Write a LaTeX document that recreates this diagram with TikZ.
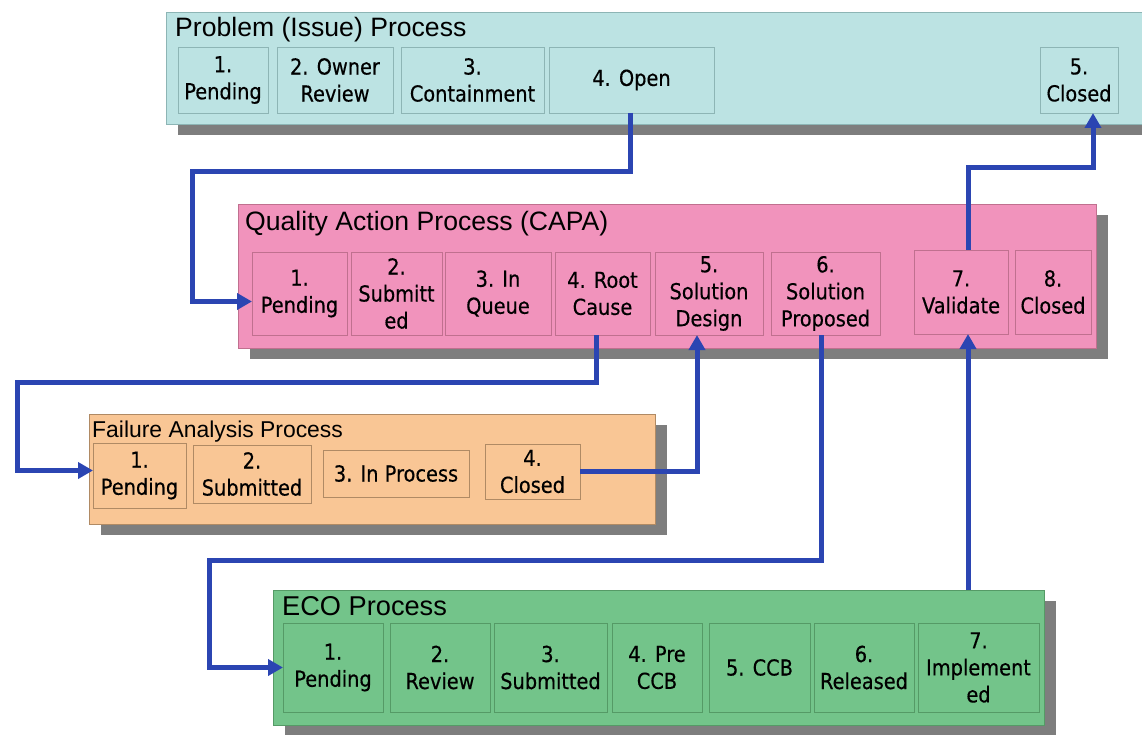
\documentclass[tikz,border=0pt]{standalone}
\usepackage{fontspec}
\setmainfont{Liberation Sans}
\newfontfamily\tah[FakeStretch=0.88,FakeBold=0.4]{DejaVu Sans}
\usetikzlibrary{arrows.meta,shadows}
\definecolor{probfill}{HTML}{BCE3E3}
\definecolor{probline}{HTML}{8DB5B5}
\definecolor{capafill}{HTML}{F193BC}
\definecolor{capaline}{HTML}{C0708F}
\definecolor{fafill}{HTML}{F9C695}
\definecolor{faline}{HTML}{B08A64}
\definecolor{ecofill}{HTML}{73C48A}
\definecolor{ecoline}{HTML}{559A66}
\definecolor{arrowblue}{HTML}{2B45B2}
\definecolor{shadowgray}{HTML}{7E7E7E}
\begin{document}
\begin{tikzpicture}[x=1pt,y=-1pt,
  outerbox/.style={anchor=north west,inner sep=0pt,outer sep=0pt,line width=0.8pt},
  sbox/.style={anchor=north west,inner sep=0pt,outer sep=0pt,line width=0.9pt,align=center,
    font=\tah\fontsize{22}{27}\selectfont},
  ptitle/.style={anchor=base west,inner sep=0pt,font=\fontsize{26.6}{30}\selectfont},
  arr/.style={line width=5pt,draw=arrowblue,line join=miter,
    -{Triangle[length=15pt,width=16pt]}},
  shad/.style={drop shadow={shadow xshift=12pt,shadow yshift=-11pt,fill=shadowgray,opacity=1}}
]
\useasboundingbox (0,0) rectangle (1142,735);
% Problem process
\node[outerbox,shad,fill=probfill,draw=probline,minimum width=990pt,minimum height=112pt] (prob) at (166,12) {};
\node[ptitle] (probt) at (175,37) {Problem (Issue) Process};
\node[sbox,draw=probline,minimum width=90pt,minimum height=66pt] (p1) at (178,47) {1.\\Pending};
\node[sbox,draw=probline,minimum width=116pt,minimum height=66pt] (p2) at (277,47) {2. Owner\\Review};
\node[sbox,draw=probline,minimum width=143pt,minimum height=66pt] (p3) at (401,47) {3.\\Containment};
\node[sbox,draw=probline,minimum width=165pt,minimum height=66pt] (p4) at (549,47) {4. Open};
\node[sbox,draw=probline,minimum width=78pt,minimum height=66pt] (p5) at (1040,47) {5.\\Closed};
% CAPA
\node[outerbox,shad,fill=capafill,draw=capaline,minimum width=858pt,minimum height=144pt] (capa) at (238,204) {};
\node[ptitle] (capat) at (245,231) {Quality Action Process (CAPA)};
\node[sbox,draw=capaline,minimum width=95pt,minimum height=83pt] (q1) at (252,252) {1.\\Pending};
\node[sbox,draw=capaline,minimum width=91pt,minimum height=83pt] (q2) at (351,252) {2.\\Submitt\\ed};
\node[sbox,draw=capaline,minimum width=106pt,minimum height=83pt] (q3) at (445,252) {3. In\\Queue};
\node[sbox,draw=capaline,minimum width=95pt,minimum height=83pt] (q4) at (555,252) {4. Root\\Cause};
\node[sbox,draw=capaline,minimum width=108pt,minimum height=83pt] (q5) at (655,252) {5.\\Solution\\Design};
\node[sbox,draw=capaline,minimum width=109pt,minimum height=83pt] (q6) at (771,252) {6.\\Solution\\Proposed};
\node[sbox,draw=capaline,minimum width=94pt,minimum height=84pt] (q7) at (914,250) {7.\\Validate};
\node[sbox,draw=capaline,minimum width=76pt,minimum height=84pt] (q8) at (1015,250) {8.\\Closed};
% Failure analysis
\node[outerbox,shad,fill=fafill,draw=faline,minimum width=566pt,minimum height=110pt] (fa) at (89,414) {};
\node[ptitle,font=\fontsize{22.9}{26}\selectfont] (fat) at (92,437) {Failure Analysis Process};
\node[sbox,draw=faline,minimum width=93pt,minimum height=65pt] (f1) at (93,443) {1.\\Pending};
\node[sbox,draw=faline,minimum width=118pt,minimum height=58pt] (f2) at (193,445) {2.\\Submitted};
\node[sbox,draw=faline,minimum width=146pt,minimum height=47pt] (f3) at (323,450) {3. In Process};
\node[sbox,draw=faline,minimum width=95pt,minimum height=55pt] (f4) at (485,444) {4.\\Closed};
% ECO
\node[outerbox,shad,fill=ecofill,draw=ecoline,minimum width=771pt,minimum height=135pt] (eco) at (273,590) {};
\node[ptitle,font=\fontsize{27.2}{30}\selectfont] (ecot) at (282,615) {ECO Process};
\node[sbox,draw=ecoline,minimum width=100pt,minimum height=89pt] (e1) at (283,623) {1.\\Pending};
\node[sbox,draw=ecoline,minimum width=100pt,minimum height=89pt] (e2) at (390,623) {2.\\Review};
\node[sbox,draw=ecoline,minimum width=113pt,minimum height=89pt] (e3) at (494,623) {3.\\Submitted};
\node[sbox,draw=ecoline,minimum width=90pt,minimum height=89pt] (e4) at (612,623) {4. Pre\\CCB};
\node[sbox,draw=ecoline,minimum width=101pt,minimum height=89pt] (e5) at (709,623) {5. CCB};
\node[sbox,draw=ecoline,minimum width=100pt,minimum height=89pt] (e6) at (814,623) {6.\\Released};
\node[sbox,draw=ecoline,minimum width=121pt,minimum height=89pt] (e7) at (918,623) {7.\\Implement\\ed};
% connectors
\coordinate (c1) at (192,172);
\coordinate (c2) at (968,168);
\coordinate (c3) at (17,382);
\coordinate (c5) at (209,560);
\draw[arr] ([xshift=-1pt]p4.south) |- (c1) |- ([yshift=-8pt]q1.west);
\draw[arr] ([xshift=7pt]q7.north) |- (c2) -| ([xshift=14pt]p5.south);
\draw[arr] ([xshift=-6pt]q4.south) |- (c3) |- ([yshift=5pt]f1.west);
\draw[arr] (f4.east) -| ([xshift=-12pt]q5.south);
\draw[arr] ([xshift=-4pt]q6.south) |- (c5) |- (e1.west);
\draw[arr] ([xshift=7pt]q7.south |- eco.north) -- ([xshift=7pt]q7.south);
\end{tikzpicture}
\end{document}
